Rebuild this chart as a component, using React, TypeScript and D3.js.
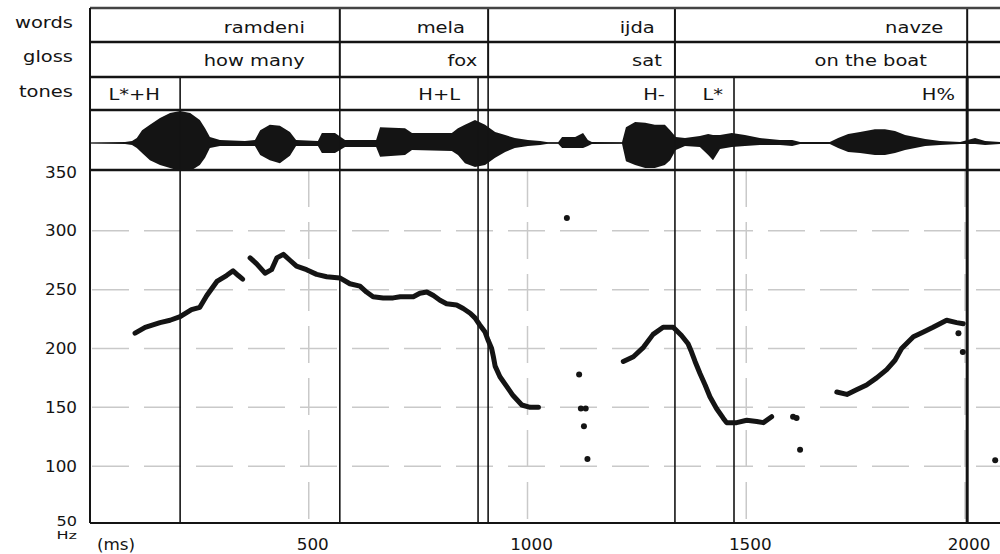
import React from 'react';
import * as d3 from 'd3';

const width = 1000;
const height = 554;
const left = 90;
const rows = {top: 8, gloss: 42, tones: 77, wave: 110, plot: 170, bottom: 523};
const font = "'DejaVu Sans', sans-serif";
const ink = '#141414';
const grey = '#c9c9c9';

// tiers (times in ms, labels right-aligned at "at")
const words = [
  {label: 'ramdeni', at: 491},
  {label: 'mela', at: 857},
  {label: 'ijda', at: 1291},
  {label: 'navze', at: 1950},
];
const glosses = [
  {label: 'how many', at: 491},
  {label: 'fox', at: 885},
  {label: 'sat', at: 1307},
  {label: 'on the boat', at: 1913},
];
const tones = [
  {label: 'L*+H', at: 160},
  {label: 'H+L', at: 846},
  {label: 'H-', at: 1314},
  {label: 'L*', at: 1447},
  {label: 'H%', at: 1977},
];
const wordBounds = [571, 910, 1337, 2005];
const toneBounds = [206, 571, 887, 910, 1337, 1472, 2005];

const hzTicks = [350, 300, 250, 200, 150, 100];
const msTicks = [500, 1000, 1500, 2000];

// waveform envelope: [ms, upper %, lower %]
const envelope: [number, number, number][] = [
  [0, 1, 1], [80, 3, 3], [96, 6, 6], [107, 15, 15], [119, 39, 30], [137, 55, 52],
  [160, 76, 67], [183, 91, 76], [206, 97, 85], [229, 91, 85], [251, 70, 67],
  [263, 45, 45], [274, 18, 15], [297, 9, 9], [354, 6, 9], [377, 9, 9],
  [389, 39, 36], [411, 55, 52], [434, 52, 61], [457, 33, 39], [471, 9, 9],
  [521, 6, 9], [530, 30, 30], [560, 30, 30], [583, 9, 12], [654, 9, 12],
  [663, 48, 42], [720, 45, 36], [736, 30, 21], [827, 30, 24], [841, 45, 36],
  [857, 55, 61], [880, 70, 73], [903, 55, 67], [926, 33, 45], [949, 24, 27],
  [971, 15, 15], [1001, 9, 9], [1029, 6, 6], [1047, 2, 2], [1070, 2, 2],
  [1079, 18, 15], [1109, 18, 15], [1127, 30, 15], [1138, 9, 9], [1147, 3, 3],
  [1216, 2, 2], [1225, 48, 55], [1246, 64, 67], [1269, 61, 76], [1291, 55, 76],
  [1314, 55, 67], [1326, 39, 52], [1339, 18, 21], [1360, 15, 9], [1394, 21, 12],
  [1413, 27, 36], [1424, 24, 52], [1440, 24, 18], [1467, 30, 12], [1497, 24, 9],
  [1531, 15, 6], [1577, 9, 6], [1605, 9, 9], [1623, 3, 3], [1691, 3, 3],
  [1710, 15, 15], [1733, 27, 27], [1760, 33, 30], [1794, 42, 36], [1817, 42, 36],
  [1840, 36, 30], [1863, 24, 21], [1886, 18, 15], [1909, 12, 9], [1943, 6, 6],
  [1989, 3, 3], [2023, 15, 3], [2046, 6, 6], [2080, 3, 3],
];

// pitch track, continuous stretches: [ms, Hz]
const pitchRuns: [number, number][][] = [
  [
    [103, 213], [126, 218], [160, 222], [183, 224], [206, 227], [232, 233],
    [251, 235], [267, 245], [290, 257], [312, 262], [327, 266], [339, 262], [349, 259],
  ],
  [
    [366, 277], [381, 272], [400, 264], [415, 267], [427, 277], [442, 280],
    [457, 275], [472, 270], [495, 267], [518, 263], [541, 261], [571, 260],
    [594, 255], [617, 253], [632, 248], [647, 244], [670, 243], [693, 243],
    [709, 244], [739, 244], [754, 247], [770, 248], [785, 245], [800, 241],
    [815, 238], [838, 237], [853, 234], [869, 230], [880, 226], [891, 220],
    [903, 214], [910, 207], [918, 200], [922, 193], [926, 185], [937, 176],
    [952, 168], [967, 160], [987, 152], [1006, 150], [1025, 150],
  ],
  [
    [1219, 189], [1242, 193], [1265, 201], [1287, 212], [1310, 218], [1333, 218],
    [1352, 211], [1367, 204], [1375, 197], [1383, 189], [1394, 179], [1406, 169],
    [1417, 159], [1432, 149], [1447, 141], [1455, 137], [1478, 137], [1501, 139],
    [1524, 138], [1539, 137], [1558, 142],
  ],
  [
    [1707, 163], [1730, 161], [1752, 165], [1775, 169], [1798, 175], [1821, 182],
    [1840, 190], [1855, 200], [1882, 210], [1905, 214], [1927, 218], [1958, 224],
    [1981, 222], [1996, 221],
  ],
];
const pitchDots: [number, number][] = [
  [1090, 311], [1118, 178], [1122, 149], [1133, 149], [1129, 134], [1137, 106],
  [1607, 142], [1615, 141], [1623, 114], [1985, 213], [1995, 197], [2069, 105],
];

const x = d3.scaleLinear().domain([0, 2000]).range([left, 965]);
const y = d3.scaleLinear().domain([50, 350]).range([525, 172]);
const amp = d3.scaleLinear().domain([-100, 100]).range([176, 110]);

const Label = ({px, py, text, anchor = 'end', sx = 1.3, sy = 1, size = 15}: any) => (
  <text transform={`translate(${px},${py}) scale(${sx},${sy})`} textAnchor={anchor}
    fontFamily={font} fontSize={size} fill={ink}>{text}</text>
);

export default function App() {
  const line = d3.line<[number, number]>().x(d => x(d[0])).y(d => y(d[1]));
  const wave = d3.area<[number, number, number]>()
    .x(d => x(d[0])).y0(d => amp(-d[2])).y1(d => amp(d[1]));
  const hLines = [rows.top, rows.gloss, rows.tones, rows.wave, rows.plot];

  return (
    <svg width={width} height={height} style={{position: 'absolute', left: 0, top: 0, background: '#fff'}}>
      <defs>
        <clipPath id="waveClip">
          <rect x={left} y={rows.wave} width={width - left} height={rows.plot - rows.wave} />
        </clipPath>
      </defs>

      {/* grid */}
      {hzTicks.filter(t => t < 350).map(t => (
        <line key={'h' + t} x1={left + 2} x2={width} y1={y(t)} y2={y(t)}
          stroke={grey} strokeWidth={1.5} strokeDasharray="37 15" />
      ))}
      {msTicks.map(t => (
        <line key={'v' + t} x1={x(t)} x2={x(t)} y1={rows.plot} y2={rows.bottom}
          stroke={grey} strokeWidth={1.5} strokeDasharray="37 15" />
      ))}

      {/* waveform */}
      <line x1={left} x2={width} y1={amp(0)} y2={amp(0)} stroke={ink} strokeWidth={1} />
      <path d={wave(envelope) || ''} fill={ink} clipPath="url(#waveClip)" />

      {/* boundaries */}
      {wordBounds.map(b => (
        <line key={'w' + b} x1={x(b)} x2={x(b)} y1={rows.top} y2={rows.tones}
          stroke={ink} strokeWidth={2} />
      ))}
      {toneBounds.map(b => (
        <line key={'t' + b} x1={x(b)} x2={x(b)} y1={rows.tones} y2={rows.bottom}
          stroke={ink} strokeWidth={b === 2005 ? 3 : 1.6} />
      ))}

      {/* pitch */}
      {pitchRuns.map((run, i) => (
        <path key={'p' + i} d={line(run) || ''} fill="none" stroke={ink}
          strokeWidth={5} strokeLinecap="round" strokeLinejoin="round" />
      ))}
      {pitchDots.map((d, i) => (
        <circle key={'d' + i} cx={x(d[0])} cy={y(d[1])} r={3} fill={ink} />
      ))}

      {/* frame */}
      {hLines.map(h => (
        <line key={'r' + h} x1={left} x2={width} y1={h} y2={h}
          stroke={h === rows.top ? '#444' : ink} strokeWidth={2.5} />
      ))}
      <line x1={left} x2={width} y1={rows.bottom} y2={rows.bottom} stroke={ink} strokeWidth={2} />
      <line x1={left} x2={left} y1={rows.top} y2={rows.bottom} stroke={ink} strokeWidth={2} />

      {/* tier text */}
      {words.map(w => <Label key={w.label} px={x(w.at)} py={rows.top + 25} text={w.label} />)}
      {glosses.map(g => <Label key={g.label} px={x(g.at)} py={rows.gloss + 24} text={g.label} />)}
      {tones.map(t => <Label key={t.label} px={x(t.at)} py={rows.tones + 23} text={t.label} />)}
      <Label px={73} py={rows.top + 20} text="words" />
      <Label px={73} py={rows.gloss + 20} text="gloss" />
      <Label px={73} py={rows.tones + 20} text="tones" />

      {/* axes */}
      {hzTicks.map(t => (
        <Label key={'yl' + t} px={77} py={y(t) + 5.5} text={String(t)} sx={1.12} />
      ))}
      <Label px={77} py={rows.bottom + 3} text="50" sx={1.15} size={14} />
      <Label px={77} py={rows.bottom + 16} text="Hz" sx={1.15} sy={0.78} size={14} />
      <Label px={116} py={550} text="(ms)" anchor="middle" sx={1.12} />
      {msTicks.map(t => (
        <Label key={'xl' + t} px={x(t) + 4} py={550} text={String(t)} anchor="middle" sx={1.12} />
      ))}
    </svg>
  );
}
